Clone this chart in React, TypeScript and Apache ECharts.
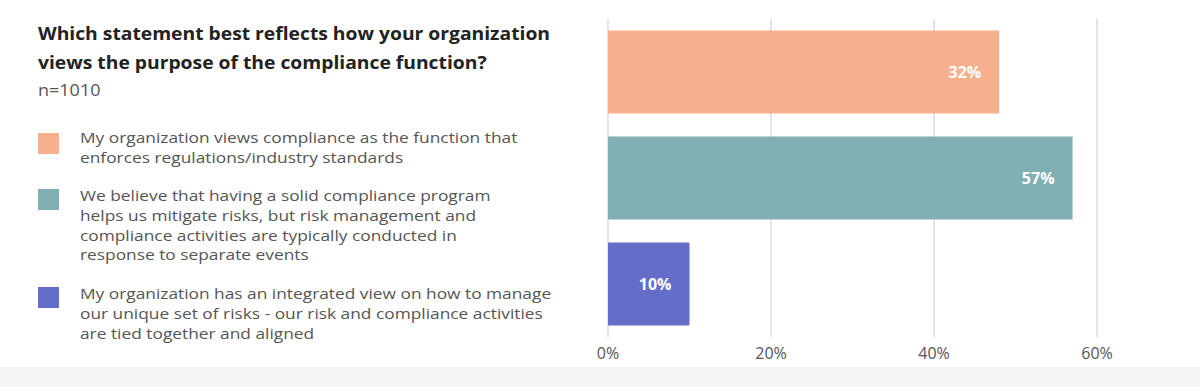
import React, { useEffect, useRef } from "react";
import * as echarts from "echarts";

const titleLines = [
  "Which statement best reflects how your organization",
  "views the purpose of the compliance function?",
];
const sampleNote = "n=1010";
const categories = [
  "My organization views compliance as the function that\nenforces regulations/industry standards",
  "We believe that having a solid compliance program\nhelps us mitigate risks, but risk management and\ncompliance activities are typically conducted in\nresponse to separate events",
  "My organization has an integrated view on how to manage\nour unique set of risks - our risk and compliance activities\nare tied together and aligned",
];
// bar lengths as drawn in the picture (percent)
const barValues = [48, 57, 10];
// labels as printed on the bars
const barLabels = ["32%", "57%", "10%"];
const colors = ["#F7B08D", "#80B0B3", "#646EC8"];
const tickValues = [0, 20, 40, 60];

export default function App() {
  const ref = useRef<HTMLDivElement>(null);
  useEffect(() => {
    if (!ref.current) return;
    const chart = echarts.init(ref.current, null, { renderer: "svg" });
    const font = "'Open Sans', 'Noto Sans', sans-serif";
    const legendTops = [128, 186, 284];
    const squareTops = [133, 189, 287];
    const graphics: any[] = [
      {
        type: "rect",
        shape: { x: 0, y: 367, width: 1200, height: 20 },
        style: { fill: "#f5f5f5" },
        silent: true,
      },
      {
        type: "text",
        x: 38,
        y: 18.5,
        scaleX: 1.135,
        style: {
          text: titleLines.join("\n"),
          font: `bold 17px ${font}`,
          lineHeight: 29,
          fill: "#222222",
          textVerticalAlign: "top",
        },
      },
      {
        type: "text",
        x: 38,
        y: 90,
        scaleX: 1.125,
        style: {
          text: sampleNote,
          font: `16px ${font}`,
          fill: "#555555",
          textVerticalAlign: "middle",
        },
      },
    ];
    categories.forEach((c, i) => {
      graphics.push({
        type: "rect",
        shape: { x: 38, y: squareTops[i], width: 21, height: 21 },
        style: { fill: colors[i] },
      });
      graphics.push({
        type: "text",
        x: 80,
        y: legendTops[i],
        scaleX: 1.195,
        style: {
          text: c,
          font: `14.5px ${font}`,
          lineHeight: 19.7,
          fill: "#555555",
          textVerticalAlign: "top",
        },
      });
    });

    chart.setOption({
      animation: false,
      graphic: graphics,
      grid: { left: 608, right: 103, top: 19, bottom: 50 },
      xAxis: {
        type: "value",
        min: tickValues[0],
        max: tickValues[tickValues.length - 1],
        interval: 20,
        axisLine: { show: false },
        axisTick: { show: false },
        axisLabel: {
          formatter: "{value}%",
          color: "#555555",
          fontSize: 16,
          fontFamily: font,
          margin: 8,
        },
        splitLine: { lineStyle: { color: "#dddddd", width: 1.5 } },
      },
      yAxis: {
        type: "category",
        inverse: true,
        data: categories,
        axisLine: { show: false },
        axisTick: { show: false },
        axisLabel: { show: false },
      },
      series: [
        {
          type: "bar",
          barWidth: 83,
          data: barValues.map((v, i) => ({
            value: v,
            itemStyle: { color: colors[i] },
            label: { formatter: barLabels[i] },
          })),
          label: {
            show: true,
            position: "insideRight",
            distance: 18,
            color: "#ffffff",
            fontWeight: "bold",
            fontSize: 16,
            fontFamily: font,
          },
        },
      ],
    });
    return () => chart.dispose();
  }, []);
  return (
    <div
      ref={ref}
      style={{ position: "absolute", left: 0, top: 0, width: 1200, height: 387 }}
    />
  );
}
